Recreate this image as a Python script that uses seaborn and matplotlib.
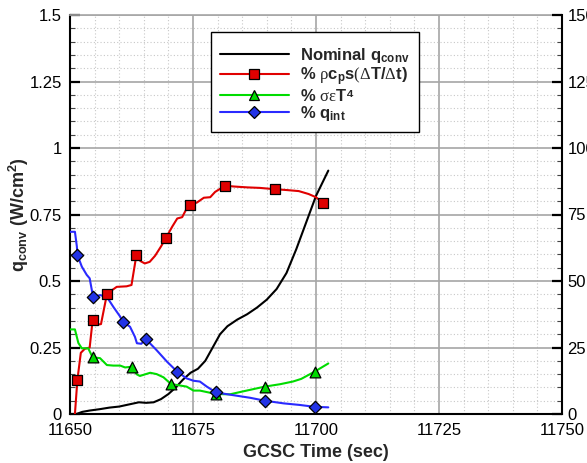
import numpy as np
import pandas as pd
import matplotlib
matplotlib.use("Agg")
import matplotlib.pyplot as plt
from matplotlib.lines import Line2D
from matplotlib.ticker import MultipleLocator, FuncFormatter
import seaborn as sns

# ---- data -------------------------------------------------------------
# Nominal convective heating (W/cm^2), left axis
t_conv = [11651.3, 11652.5, 11654.0, 11656.0, 11658.0, 11660.0, 11662.0, 11664.0,
          11665.5, 11667.0, 11668.5, 11670.0, 11671.5, 11673.0, 11674.5, 11676.0,
          11677.5, 11679.0, 11680.5, 11682.0, 11684.0, 11686.0, 11688.0, 11690.0,
          11692.0, 11694.0, 11696.0, 11698.0, 11700.0, 11702.5]
q_conv = [0.0, 0.008, 0.013, 0.018, 0.024, 0.028, 0.036, 0.044,
          0.042, 0.044, 0.056, 0.075, 0.10, 0.13, 0.155, 0.17,
          0.20, 0.25, 0.30, 0.33, 0.355, 0.375, 0.40, 0.43,
          0.47, 0.53, 0.62, 0.72, 0.82, 0.915]

# Storage term share (%), right axis
t_stor = [11651.0, 11651.5, 11652.2, 11653.0, 11654.0, 11654.6, 11655.3, 11656.3,
          11657.5, 11658.5, 11659.5, 11661.5, 11662.5, 11663.5, 11664.3, 11665.2,
          11666.2, 11667.3, 11668.5, 11669.5, 11670.8, 11671.8, 11672.8, 11673.5,
          11674.4, 11675.8, 11677.2, 11678.5, 11679.5, 11681.5, 11683.5, 11686.0,
          11688.6, 11691.7, 11694.0, 11696.5, 11698.5, 11700.0, 11701.4]
p_stor = [0.0, 12.8, 23.0, 24.5, 25.0, 35.3, 33.5, 33.8,
          45.0, 46.5, 47.8, 48.0, 48.5, 59.8, 57.5, 56.6,
          57.2, 59.5, 63.0, 66.2, 70.5, 73.5, 74.0, 76.5,
          78.6, 79.5, 81.3, 81.5, 83.5, 85.8, 85.5, 85.2,
          85.0, 84.5, 84.2, 83.8, 82.7, 81.5, 79.4]
t_stor_mk = [11651.5, 11654.6, 11657.5, 11663.5, 11669.5, 11674.4, 11681.5, 11691.7, 11701.4]
p_stor_mk = [12.8, 35.3, 45.0, 59.8, 66.2, 78.6, 85.8, 84.5, 79.4]

# Re-radiation share (%), right axis
t_rad = [11650.0, 11651.0, 11651.7, 11652.4, 11653.7, 11654.6, 11656.1, 11657.5,
         11658.8, 11660.2, 11661.2, 11662.7, 11663.5, 11664.2, 11666.3, 11667.6,
         11669.0, 11670.5, 11672.4, 11673.7, 11675.1, 11676.4, 11679.7, 11682.5,
         11685.9, 11689.6, 11692.7, 11695.3, 11697.0, 11699.7, 11702.5]
p_rad = [31.8, 31.8, 26.7, 24.7, 24.7, 21.3, 21.0, 18.4,
         18.2, 18.2, 17.5, 17.8, 15.0, 14.3, 15.5, 15.0,
         13.8, 11.3, 10.7, 10.3, 8.8, 8.8, 7.5, 7.4,
         8.8, 10.3, 11.2, 12.2, 13.2, 15.9, 19.0]
t_rad_mk = [11654.6, 11662.7, 11670.5, 11679.7, 11689.6, 11699.7]
p_rad_mk = [21.3, 17.8, 11.3, 7.5, 10.3, 15.9]

# Internal conduction share (%), right axis
t_int = [11650.0, 11651.0, 11651.4, 11651.5, 11652.4, 11653.4, 11654.0, 11654.7,
         11656.1, 11657.5, 11658.8, 11660.2, 11660.7, 11662.2, 11663.2, 11663.6,
         11664.5, 11665.4, 11667.6, 11669.7, 11671.8, 11673.7, 11675.1, 11676.4,
         11677.8, 11679.7, 11683.1, 11686.6, 11689.6, 11693.4, 11696.7, 11699.7,
         11702.5]
p_int = [68.5, 68.5, 62.9, 59.8, 55.4, 52.3, 51.0, 43.9,
         44.7, 44.0, 40.3, 36.6, 34.7, 32.8, 29.0, 26.6,
         26.4, 28.2, 24.0, 19.7, 15.9, 13.4, 12.5, 12.2,
         10.3, 8.1, 7.1, 6.1, 5.0, 4.0, 3.4, 2.7,
         2.5]
t_int_mk = [11651.5, 11654.7, 11660.7, 11665.4, 11671.8, 11679.7, 11689.6, 11699.7]
p_int_mk = [59.8, 43.9, 34.7, 28.2, 15.9, 8.1, 5.0, 2.7]

x_ticks = [11650, 11675, 11700, 11725, 11750]
left_ticks = [0, 0.25, 0.5, 0.75, 1, 1.25, 1.5]
right_ticks = [0, 25, 50, 75, 100, 125, 150]

labels = [r"Nominal q$_{\mathbf{conv}}$",
          r"% $\mathsf{ρ}$c$_{\mathbf{p}}$s$\mathsf{(Δ}$T/$\mathsf{Δ}$t)",
          r"% $\mathsf{σε}$T⁴",
          r"% q$_{\mathbf{int}}$"]

# ---- style ------------------------------------------------------------
sns.set_theme(style="white")
plt.rcParams["font.family"] = ["Liberation Sans", "DejaVu Sans"]
plt.rcParams["mathtext.fontset"] = "custom"
plt.rcParams["mathtext.rm"] = "Liberation Sans:bold"
plt.rcParams["mathtext.it"] = "Liberation Sans:bold"
plt.rcParams["mathtext.bf"] = "Liberation Sans:bold"
plt.rcParams["mathtext.sf"] = "Liberation Serif"

c_black = "#000000"
c_red = "#e00000"
c_green = "#00dc00"
c_blue = "#2a2aff"
c_blue_mk = "#2233e6"
c_major = "#a6a6a6"
c_minor = "#c8c8c8"

fig = plt.figure(figsize=(5.87, 4.63), dpi=100)
ax = fig.add_axes([70 / 587, 49 / 463, 492 / 587, 399 / 463])
ax2 = ax.twinx()

lw = 1.5
sns.lineplot(x=t_conv, y=q_conv, ax=ax, color=c_black, lw=lw,
             sort=False, estimator=None)

def series(tl, pl, tm, pm, line_c, face_c, marker, size):
    sns.lineplot(x=tl, y=pl, ax=ax2, color=line_c, lw=lw,
                 sort=False, estimator=None, zorder=3)
    sns.scatterplot(x=tm, y=pm, ax=ax2, marker=marker, s=size, color=face_c,
                    edgecolor="black", linewidth=0.9, zorder=4)

series(t_stor, p_stor, t_stor_mk, p_stor_mk, c_red, c_red, "s", 48)
series(t_rad, p_rad, t_rad_mk, p_rad_mk, c_green, c_green, "^", 60)
series(t_int, p_int, t_int_mk, p_int_mk, c_blue, c_blue_mk, "D", 40)

# ---- axes -------------------------------------------------------------
ax.set_xlim(11650, 11750)
ax.set_ylim(0, 1.5)
ax2.set_ylim(0, 150)

ax.set_xticks(x_ticks)
ax.set_yticks(left_ticks)
ax2.set_yticks(right_ticks)
ax.xaxis.set_minor_locator(MultipleLocator(5))
ax.yaxis.set_minor_locator(MultipleLocator(0.05))
ax2.yaxis.set_minor_locator(MultipleLocator(5))
fmt = FuncFormatter(lambda v, p: f"{v:g}")
ax.yaxis.set_major_formatter(fmt)
ax2.yaxis.set_major_formatter(fmt)
ax.xaxis.set_major_formatter(fmt)

ax.grid(True, which="major", color=c_major, lw=1.2, ls="-")
ax.grid(True, which="minor", color=c_minor, lw=0.8, ls=(0, (1, 2)))
ax.set_axisbelow(True)

for a in (ax, ax2):
    a.tick_params(which="major", direction="in", length=7, width=1.6,
                  color="black", labelsize=12, labelcolor="black")
    a.tick_params(which="minor", direction="in", length=3.5, width=0.8,
                  color="#444444")
ax.tick_params(axis="y", which="major", pad=6)
ax.tick_params(axis="x", which="major", pad=6.5)
ax2.tick_params(axis="y", which="major", pad=4)
ax.tick_params(top=False, right=False, which="both")
ax2.tick_params(left=False, which="both")

for name, sp in ax.spines.items():
    sp.set_linewidth(1.5)
    sp.set_color("black")
ax.spines["top"].set_color(c_major)
ax.spines["top"].set_linewidth(1.2)
ax.spines["right"].set_visible(False)
for name in ("left", "bottom", "top"):
    ax2.spines[name].set_visible(False)
ax2.spines["right"].set_linewidth(1.5)
ax2.spines["right"].set_color("black")

ax.set_xlabel("GCSC Time (sec)", fontsize=13, fontweight="bold", labelpad=4)
ax.set_ylabel(r"q$_{\mathbf{conv}}$ (W/cm$^{\mathbf{2}}$)", fontsize=13,
              fontweight="bold", labelpad=-1)
ax2.set_ylabel("")

# ---- legend -----------------------------------------------------------
handles = [
    Line2D([], [], color=c_black, lw=lw),
    Line2D([], [], color=c_red, lw=lw, marker="s", ms=6.5,
           mfc=c_red, mec="black", mew=0.9),
    Line2D([], [], color=c_green, lw=lw, marker="^", ms=7.5,
           mfc=c_green, mec="black", mew=0.9),
    Line2D([], [], color=c_blue, lw=lw, marker="D", ms=6,
           mfc=c_blue_mk, mec="black", mew=0.9),
]
leg = ax2.legend(handles, labels, loc="upper left",
                 bbox_to_anchor=(0.2866, 0.957), borderaxespad=0,
                 frameon=True, fancybox=False, framealpha=1,
                 edgecolor="black", handlelength=4.1, handletextpad=0.7,
                 labelspacing=0.0, borderpad=0.55,
                 title=" ", title_fontsize=4,
                 prop={"size": 12, "weight": "bold"})
leg.get_frame().set_linewidth(1.0)
leg.set_zorder(10)

fig.savefig("out.png", dpi=100)
